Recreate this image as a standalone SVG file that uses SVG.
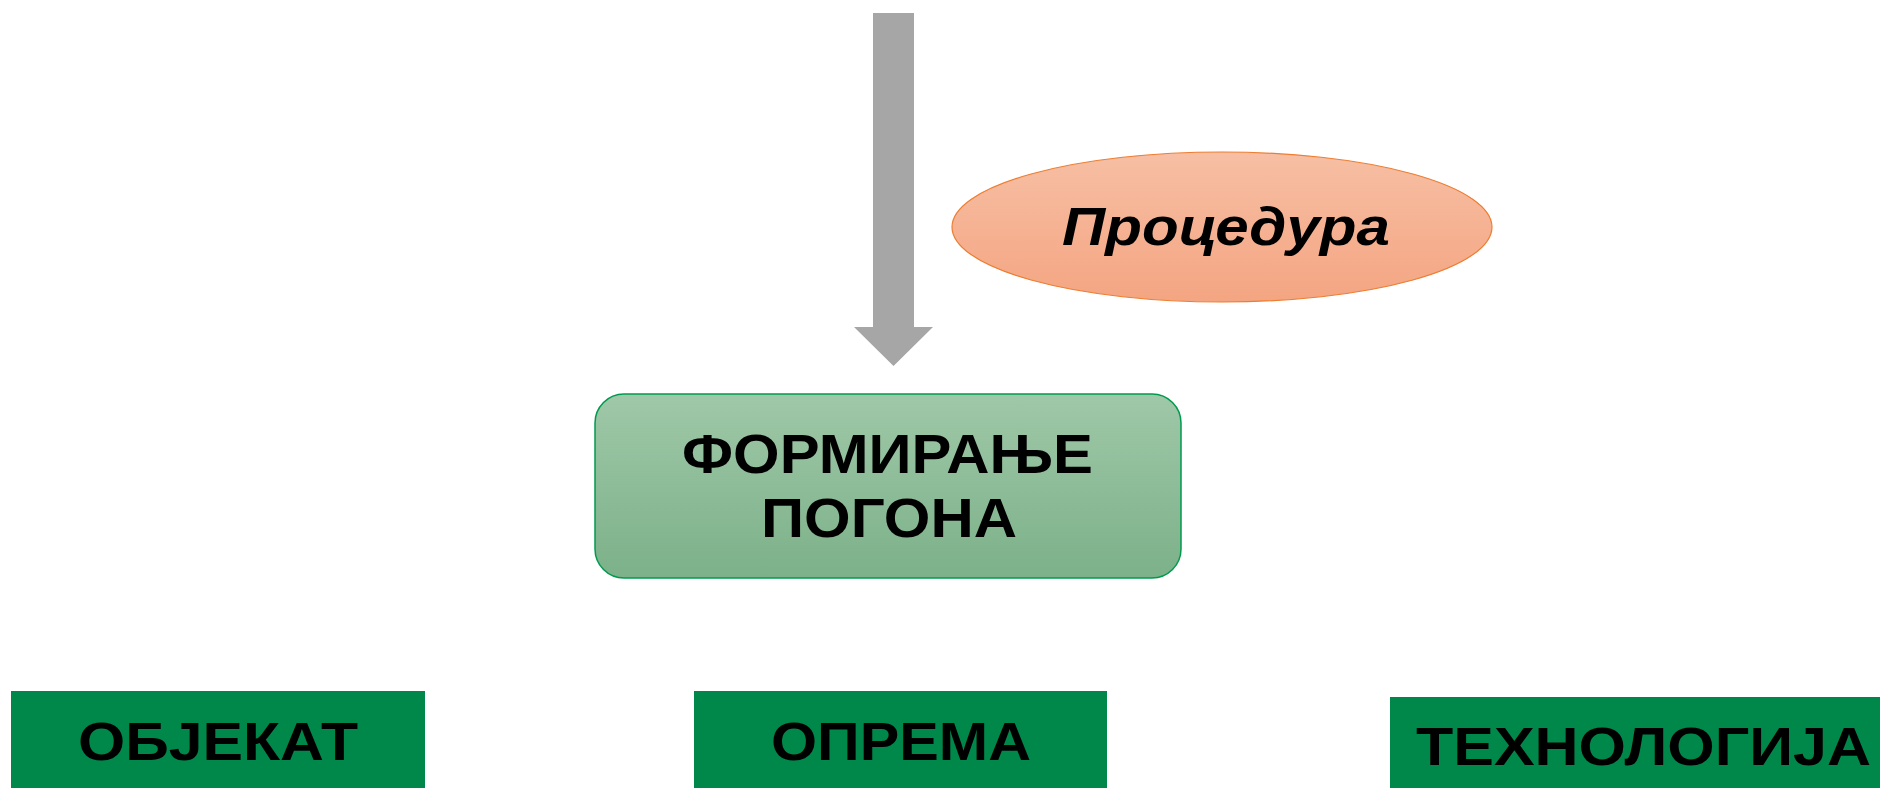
<svg xmlns="http://www.w3.org/2000/svg" width="1880" height="788" viewBox="0 0 1880 788">
<defs>
<linearGradient id="gGreen" x1="0" y1="0" x2="0" y2="1">
<stop offset="0" stop-color="#9FC8A8"/>
<stop offset="1" stop-color="#7CB189"/>
</linearGradient>
<linearGradient id="gOrange" x1="0" y1="0" x2="0" y2="1">
<stop offset="0" stop-color="#F7BFA4"/>
<stop offset="1" stop-color="#F4A582"/>
</linearGradient>
<style>
.t{font-family:"Liberation Sans",Arial,sans-serif;font-weight:bold;fill:#000;text-anchor:middle}
.box{fill:#00884A}
</style>
</defs>
<rect width="1880" height="788" fill="#FFFFFF"/>
<g id="connectors">
<polygon points="873,13 914,13 914,327 933,327 893.5,366 854,327 873,327" fill="#A6A6A6"/>
</g>
<g id="procedura">
<ellipse cx="1222" cy="227" rx="270" ry="75" fill="url(#gOrange)" stroke="#ED7D31" stroke-width="1.2"/>
<text class="t" x="1226" y="245" font-size="54" font-style="italic" textLength="328" lengthAdjust="spacingAndGlyphs">Процедура</text>
</g>
<g id="formiranje">
<rect x="595" y="394" width="586" height="184" rx="29" ry="29" fill="url(#gGreen)" stroke="#009A4E" stroke-width="1.5"/>
<text class="t" x="887.5" y="473" font-size="56" textLength="411" lengthAdjust="spacingAndGlyphs">ФОРМИРАЊЕ</text>
<text class="t" x="889" y="537" font-size="56" textLength="256" lengthAdjust="spacingAndGlyphs">ПОГОНА</text>
</g>
<g id="objekat">
<rect class="box" x="11" y="691" width="414" height="97"/>
<text class="t" x="218" y="760" font-size="54" textLength="280" lengthAdjust="spacingAndGlyphs">ОБЈЕКАТ</text>
</g>
<g id="oprema">
<rect class="box" x="694" y="691" width="413" height="97"/>
<text class="t" x="901" y="760" font-size="54" textLength="260" lengthAdjust="spacingAndGlyphs">ОПРЕМА</text>
</g>
<g id="tehnologija">
<rect class="box" x="1390" y="697" width="490" height="91"/>
<text class="t" x="1643.5" y="765" font-size="54" textLength="455" lengthAdjust="spacingAndGlyphs">ТЕХНОЛОГИЈА</text>
</g>
</svg>
